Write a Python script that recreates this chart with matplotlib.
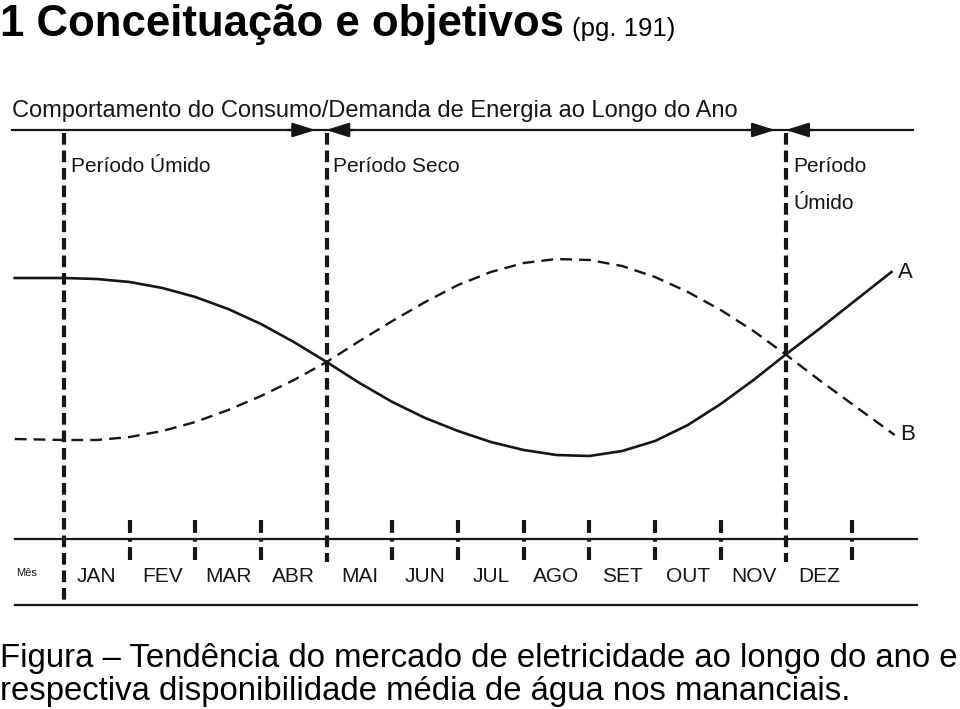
import matplotlib
matplotlib.use('Agg')
import matplotlib.pyplot as plt

# meses e períodos
meses = ['JAN', 'FEV', 'MAR', 'ABR', 'MAI', 'JUN', 'JUL', 'AGO', 'SET', 'OUT', 'NOV', 'DEZ']
periodos = ['Período Úmido', 'Período Seco', 'Período\nÚmido']
limites_periodo = [0, 4, 11]

# curvas: x em meses desde o início de JAN, y em nível relativo
mes_a = [-0.75, 0, 0.5, 1, 1.5, 2, 2.5, 3, 3.5, 4, 4.5, 5, 5.5, 6, 6.5, 7, 7.5, 8, 8.5, 9,
         9.5, 10, 10.5, 11, 11.5, 12, 12.6]
nivel_a = [9.10, 9.10, 9.05, 8.90, 8.60, 8.15, 7.55, 6.80, 5.90, 4.90, 3.85, 2.90, 2.10, 1.45,
           0.90, 0.50, 0.25, 0.20, 0.45, 0.95, 1.75, 2.80, 4.00, 5.30, 6.55, 7.85, 9.40]
mes_b = [-0.75, 0, 0.5, 1, 1.5, 2, 2.5, 3, 3.5, 4, 4.5, 5, 5.5, 6, 6.5, 7, 7.5, 8, 8.5, 9,
         9.5, 10, 10.5, 11, 11.5, 12, 12.65]
nivel_b = [1.05, 1.00, 1.00, 1.15, 1.45, 1.90, 2.50, 3.20, 4.00, 4.90, 5.95, 6.95, 7.90, 8.75,
           9.40, 9.85, 10.05, 10.00, 9.70, 9.15, 8.40, 7.50, 6.45, 5.25, 4.00, 2.80, 1.25]


# posição na página (pixels) -> coordenadas do gráfico
def px(x):
    return (x - 64) / 65.67


def py(y):
    return (460 - y) / 20


cor = '#161616'
fonte = ['Liberation Sans', 'DejaVu Sans']

fig = plt.figure(figsize=(9.6, 7.09), dpi=100)
ax = fig.add_axes([0, 0, 1, 1])
ax.set_xlim(px(0), px(960))
ax.set_ylim(py(709), py(0))
ax.axis('off')

# título e legenda da figura
ax.text(px(0), py(36), '1 Conceituação e objetivos', fontsize=31.5, fontweight='bold',
        family=fonte, va='baseline', color='black')
ax.text(px(572), py(36), '(pg. 191)', fontsize=18.5, family=fonte, va='baseline', color='black')
ax.text(px(0), py(667), 'Figura – Tendência do mercado de eletricidade ao longo do ano e',
        fontsize=23.7, family=fonte, va='baseline', color='black')
ax.text(px(0), py(700), 'respectiva disponibilidade média de água nos mananciais.',
        fontsize=23.7, family=fonte, va='baseline', color='black')

# cabeçalho do diagrama
ax.text(px(12), py(117), 'Comportamento do Consumo/Demanda de Energia ao Longo do Ano',
        fontsize=17, family=fonte, va='baseline', color=cor)
ax.plot([px(12), px(913)], [py(130), py(130)], color=cor, lw=1.6)
seta = dict(arrowstyle='-|>,head_length=0.7,head_width=0.22', mutation_scale=20,
            lw=1.6, color=cor, shrinkA=0, shrinkB=0)
for m in limites_periodo[1:]:
    ax.annotate('', xy=(m - 0.17, py(130)), xytext=(m - 0.6, py(130)), arrowprops=seta)
    ax.annotate('', xy=(m - 0.01, py(130)), xytext=(m + 0.4, py(130)), arrowprops=seta)

# limites dos períodos
for i, m in enumerate(limites_periodo):
    fundo = py(605) if m == 0 else py(562)
    ax.plot([m, m], [py(133), fundo], color=cor, lw=3, dashes=(2.8, 1.4))
    for j, linha in enumerate(periodos[i].split('\n')):
        ax.text(m + 0.1, py(172 + 37 * j), linha, fontsize=15, family=fonte,
                va='baseline', ha='left', color=cor)

# curvas A e B
ax.plot(mes_a, nivel_a, color=cor, lw=1.9)
ax.plot(mes_b, nivel_b, color=cor, lw=1.7, dashes=(5, 3))
ax.text(mes_a[-1] + 0.1, nivel_a[-1], 'A', fontsize=16, family=fonte, va='center', color=cor)
ax.text(mes_b[-1] + 0.08, nivel_b[-1], 'B', fontsize=16, family=fonte, va='center', color=cor)

# régua dos meses
ax.plot([px(15), px(917)], [py(539), py(539)], color=cor, lw=1.6)
ax.plot([px(15), px(917)], [py(605), py(605)], color=cor, lw=1.6)
for m in range(1, 13):
    if m in limites_periodo:
        continue
    ax.plot([m, m], [py(520), py(561)], color=cor, lw=3, dashes=(3.1, 1.3, 0.8, 1.3))
for i, nome in enumerate(meses):
    ax.text(i + 0.5, py(582), nome, fontsize=15, family=fonte, ha='center', va='baseline',
            color=cor)
ax.text(px(16), py(576), 'Mês', fontsize=8, family=fonte, va='baseline', color=cor)

fig.savefig('out.png', dpi=100)
